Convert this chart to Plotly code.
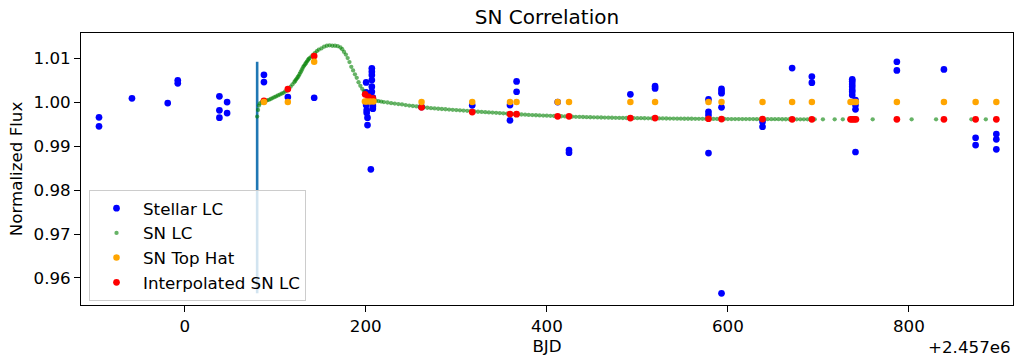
import plotly.graph_objects as go

# BJD values are given relative to the offset 2.457e6 (as shown on the axis)
BJD_OFFSET_LABEL = "+2.457e6"

# ---- Stellar light curve ----
STELLAR_X = [-94.7, -94.7, -58.3, -18.8, -7.7, -7.7, 38.3, 38.3, 38.3, 46.8, 46.8,
             87.5, 87.5, 113.9, 143.0,
             206.7, 206.7, 206.7, 206.7, 200.4, 206.7, 206.7, 200.4, 207.8, 207.8,
             200.4, 201.0, 201.0, 201.9, 201.9, 205.6, 207.8, 207.8,
             261.6, 317.6, 359.3, 359.3, 366.6, 366.6, 412.0, 424.5, 424.5,
             492.3, 519.6, 519.6,
             578.6, 578.6, 578.6, 578.6,
             593.0, 593.0, 593.0, 593.0, 593.0,
             638.3, 638.3, 671.0, 692.8, 692.8,
             737.4, 737.4, 737.4, 737.4, 737.4, 737.4, 737.4, 741.0, 741.0, 741.0, 741.0,
             786.7, 786.7, 838.7, 873.7, 873.7, 896.6, 896.6, 896.6]
STELLAR_Y = [0.99652, 0.99448, 1.00084, 0.99977, 1.00493, 1.00425, 1.0013, 0.99811, 0.99644, 1.0000, 0.9975,
             1.0062, 1.00455, 1.00114, 1.00098,
             1.00766, 1.0069, 1.00614, 1.0050, 1.00447, 1.0035, 1.00234, 1.0022, 1.0010, 0.99893,
             0.99932, 0.99818, 0.99757, 0.99644, 0.99477, 0.9847, 0.99932, 0.9985,
             0.9989, 0.99925, 0.99932, 0.99584, 1.0047, 1.00234, 1.0000, 0.98909, 0.98848,
             1.00175, 1.0036, 1.0031,
             1.0006, 0.9978, 0.99705, 0.98841,
             1.0030, 1.0025, 1.0020, 0.9988, 0.95652,
             0.99552, 0.99439, 1.00773, 1.0058, 1.0044,
             1.00516, 1.00475, 1.0041, 1.0035, 1.0028, 1.00234, 1.00159, 1.00045, 0.99932, 0.99834, 0.98864,
             1.00916, 1.0072, 1.00743, 0.99189, 0.99023, 0.99273, 0.99152, 0.98925]

# ---- SN light curve ----
SN_X = [80, 81, 82, 83, 85, 87, 89, 91, 93, 95, 97, 99, 101, 103, 105, 107, 109, 111, 113, 115,
        117, 119, 121, 122, 123, 124, 125, 126, 127, 128, 129, 130, 131, 132, 133, 134, 135, 136,
        137, 138, 140, 142, 144, 146, 148, 151, 154, 157, 160, 163, 166, 169, 172, 174, 176, 178,
        180, 182, 184, 186, 188, 190, 192, 194, 196, 198, 200, 202, 204, 206, 208, 211, 214, 217,
        220, 224, 228, 232, 236, 240, 244, 248, 252, 256, 260, 264, 268, 272, 276, 280, 284, 288,
        292, 296, 300, 304, 308, 312, 316, 320, 324, 328, 332, 336, 340, 344, 348, 352, 356, 360,
        364, 368, 372, 376, 380, 384, 388, 392, 396, 400, 404, 408, 412, 416, 420, 424, 428, 432,
        436, 440, 444, 448, 452, 456, 460, 464, 468, 472, 476, 480, 484, 488, 492, 496, 500, 504,
        508, 512, 516, 520, 524, 528, 532, 536, 540, 544, 548, 552, 556, 560, 564, 568, 572, 576,
        580, 584, 588, 592, 596, 600, 604, 608, 612, 616, 620, 624, 628, 632, 636, 640, 644, 648,
        652, 656, 660, 664, 668, 672, 676, 680, 684, 688, 692, 696,
        705, 718, 727, 738, 760, 803, 830, 869, 885, 897]
SN_Y = [0.9967, 0.9982, 0.9992, 0.9997, 1.0000, 1.0001, 1.0002, 1.0004, 1.0005, 1.0007, 1.0009,
        1.0011, 1.0013, 1.0015, 1.0017, 1.0019, 1.0021, 1.0024, 1.0026, 1.0030,
        1.0035, 1.0040, 1.0045, 1.0048, 1.0051, 1.0054, 1.0057, 1.0060, 1.0064, 1.0068, 1.0072,
        1.0076, 1.0080, 1.0083, 1.0086, 1.0089, 1.0092, 1.0095,
        1.0098, 1.0100, 1.0104, 1.0108, 1.0112, 1.0116, 1.0119, 1.0122, 1.0126, 1.0128, 1.0129,
        1.0128, 1.0128, 1.0127, 1.0124, 1.0120, 1.0114, 1.0108,
        1.0100, 1.0091, 1.0080, 1.0072, 1.0063, 1.0055, 1.0045, 1.0037, 1.0030, 1.0024, 1.0019,
        1.0014, 1.0010, 1.0007, 1.0005, 1.0003, 1.0002, 1.0001,
        1.0000, 0.9999, 0.99975, 0.99965, 0.99955, 0.99945, 0.99932, 0.9992, 0.9991, 0.9990,
        0.9989, 0.9988, 0.9987, 0.99862, 0.99855, 0.99848, 0.99842, 0.99836,
        0.9983, 0.99824, 0.99818, 0.99812, 0.99806, 0.9980, 0.99792, 0.99785, 0.9978, 0.99775,
        0.9977, 0.99765, 0.9976, 0.99755, 0.9975, 0.99744, 0.99738, 0.99732,
        0.99727, 0.99722, 0.99717, 0.99712, 0.99708, 0.99704, 0.9970, 0.99697, 0.99693, 0.9969,
        0.99686, 0.99683, 0.9968, 0.99677, 0.99674, 0.99671, 0.99668, 0.99665,
        0.99662, 0.9966, 0.99657, 0.99655, 0.99653, 0.99651, 0.99649, 0.99647, 0.99645, 0.99643,
        0.99641, 0.99639, 0.99638, 0.99637, 0.99636, 0.99635, 0.99634, 0.99633,
        0.99632, 0.99631, 0.9963, 0.99629, 0.99628, 0.99627, 0.99626, 0.99625, 0.99624, 0.99623,
        0.99622, 0.99621, 0.9962, 0.9962, 0.99619, 0.99618, 0.99618, 0.99617,
        0.99617, 0.99616, 0.99616, 0.99615, 0.99615, 0.99614, 0.99614, 0.99613, 0.99613, 0.99613,
        0.99612, 0.99612, 0.99612, 0.99611, 0.99611, 0.99611, 0.9961, 0.9961,
        0.9961, 0.9961, 0.99609, 0.99609, 0.99609, 0.99609, 0.99608, 0.99608, 0.99608, 0.99608,
        0.99608, 0.99607,
        0.99607, 0.99607, 0.99607, 0.99607, 0.99607, 0.99607, 0.99607, 0.99607, 0.99607, 0.99607]

# ---- SN top hat ----
TOPHAT_X = [87.5, 113.9, 143.0, 199.0, 201.3, 204.9, 208.5, 261.6, 317.6, 359.3, 366.6, 412.0,
            424.5, 492.3, 519.6, 578.6, 593.0, 638.3, 671.0, 692.8, 735.5, 737.4, 739.5, 741.5,
            786.7, 838.7, 873.7, 896.6]
TOPHAT_Y = [1.0000, 1.0000, 1.00917, 1.0001, 1.0001, 1.0001, 1.0001, 1.0000, 1.0000, 1.0000,
            1.0000, 1.0000, 1.0000, 1.0000, 1.0000, 1.0000, 1.0000, 1.0000, 1.0000, 1.0000,
            1.0000, 1.0000, 1.0000, 1.0000, 1.0000, 1.0000, 1.0000, 1.0000]

# ---- Interpolated SN LC ----
INTERP_X = [87.5, 113.9, 143.0, 199.3, 203.0, 207.8, 261.6, 317.6, 359.3, 366.6, 412.0, 424.5,
            492.3, 519.6, 578.6, 593.0, 638.3, 671.0, 692.8, 735.5, 737.4, 739.5, 741.5, 786.7,
            838.7, 873.7, 896.6]
INTERP_Y = [1.0003, 1.00295, 1.01045, 1.00175, 1.0012, 1.00084, 0.9988, 0.99773, 0.99727,
            0.99725, 0.99675, 0.99675, 0.99636, 0.99636, 0.9962, 0.99614, 0.99614, 0.99607,
            0.99607, 0.99607, 0.99607, 0.99607, 0.99607, 0.99607, 0.99607, 0.99607, 0.99607]

VLINE_X = 80.0

X_TICKS = [0, 200, 400, 600, 800]
Y_TICKS = [0.96, 0.97, 0.98, 0.99, 1.00, 1.01]
X_RANGE = [-114.6, 915.0]
Y_RANGE = [0.95386, 1.0157]

FONT = "DejaVu Sans"
FS = 16.7
fig = go.Figure()

# vertical marker line from min to max of stellar flux
fig.add_trace(go.Scatter(x=[VLINE_X, VLINE_X], y=[min(STELLAR_Y), max(STELLAR_Y)],
                         mode="lines", line=dict(color="#1f77b4", width=2.6),
                         showlegend=False, hoverinfo="skip"))

fig.add_trace(go.Scatter(x=STELLAR_X, y=STELLAR_Y, mode="markers", name="Stellar LC",
                         marker=dict(color="blue", size=6.7, line=dict(width=0)),
                         legendrank=1, legendgroup="a"))
fig.add_trace(go.Scatter(x=SN_X, y=SN_Y, mode="markers", name="SN LC",
                         marker=dict(color="green", size=4.3, opacity=0.6, line=dict(width=0)),
                         legendrank=2, legendgroup="b"))
fig.add_trace(go.Scatter(x=INTERP_X, y=INTERP_Y, mode="markers", name="Interpolated SN LC",
                         marker=dict(color="red", size=6.7, line=dict(width=0)),
                         legendrank=4, legendgroup="d"))
fig.add_trace(go.Scatter(x=TOPHAT_X, y=TOPHAT_Y, mode="markers", name="SN Top Hat",
                         marker=dict(color="orange", size=6.5, line=dict(width=0)),
                         legendrank=3, legendgroup="c"))

axis_common = dict(showline=True, linecolor="black", linewidth=1.3, mirror=True,
                   ticks="outside", ticklen=5.8, tickwidth=1.3, tickcolor="black",
                   showgrid=False, zeroline=False,
                   tickfont=dict(family=FONT, size=FS, color="black"))

fig.update_layout(
    width=1016, height=358,
    margin=dict(l=81, r=3, t=33, b=53),
    paper_bgcolor="white", plot_bgcolor="white",
    font=dict(family=FONT, size=FS, color="black"),
    title=dict(text="SN Correlation", x=0.5, xref="paper", xanchor="center",
               y=1 - 17 / 358, yref="container", yanchor="middle",
               font=dict(family=FONT, size=20, color="black")),
    xaxis=dict(range=X_RANGE, tickvals=X_TICKS, ticktext=[str(v) for v in X_TICKS],
               title=dict(text="BJD", standoff=1, font=dict(family=FONT, size=FS)),
               **axis_common),
    yaxis=dict(range=Y_RANGE, tickvals=Y_TICKS, ticktext=[f"{v:.2f}" for v in Y_TICKS],
               title=dict(text="Normalized Flux", standoff=6, font=dict(family=FONT, size=FS)),
               **axis_common),
    legend=dict(x=0.0086, y=0.0153, xanchor="left", yanchor="bottom",
                bgcolor="rgba(255,255,255,0.8)", bordercolor="#cccccc", borderwidth=1,
                font=dict(family=FONT, size=FS, color="black"),
                tracegroupgap=0, itemwidth=43),
    showlegend=True,
    annotations=[dict(text=BJD_OFFSET_LABEL, xref="paper", yref="paper", x=1.0, y=-0.154,
                      xanchor="right", yanchor="middle", showarrow=False,
                      font=dict(family=FONT, size=FS, color="black"))],
)

fig.write_html("out.html")
